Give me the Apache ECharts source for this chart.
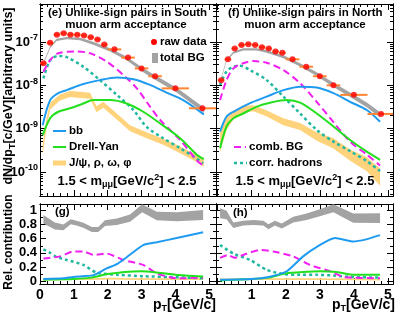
<!DOCTYPE html>
<html><head><meta charset="utf-8">
<script src="https://cdn.jsdelivr.net/npm/echarts@6/dist/echarts.min.js"></script>
<style>html,body{margin:0;padding:0;background:#fff}#c{width:399px;height:318px}</style>
</head><body><div id="c"></div><script>
// ================= DATA =================
// raw data bins (pT, GeV/c)
const binCenters = [0.1,0.3,0.5,0.7,0.9,1.1,1.3,1.5,1.7,1.9,2.2,2.6,3.0,3.4,4.0,4.8];
const binLow     = [0.0,0.2,0.4,0.6,0.8,1.0,1.2,1.4,1.6,1.8,2.0,2.4,2.8,3.2,3.6,4.4];
const binHigh    = [0.2,0.4,0.6,0.8,1.0,1.2,1.4,1.6,1.8,2.0,2.4,2.8,3.2,3.6,4.4,5.2];
// log10(dN/dpT) of raw data
const southRawLog = [-7.49,-7.02,-6.83,-6.80,-6.83,-6.83,-6.85,-6.89,-6.94,-7.06,-7.17,-7.36,-7.61,-7.79,-8.07,-8.53];
const northRawLog = [-7.88,-7.40,-7.15,-7.07,-7.05,-7.07,-7.12,-7.15,-7.22,-7.25,-7.40,-7.57,-7.79,-8.00,-8.22,-8.66];

// ---- (e) South components, log10 ----
const sTotX    = [0.08,0.30,0.49,0.79,1.18,1.57,2.07,2.56,3.05,3.45,4.04,4.84];
const sTotLog  = [-7.53,-7.12,-6.95,-6.91,-6.93,-7.03,-7.18,-7.38,-7.65,-7.84,-8.11,-8.57];
const sTotHalf = [0.022,0.024,0.025,0.027,0.03,0.033,0.037,0.042,0.047,0.052,0.056,0.06];
const sBbX     = [0.08,0.30,0.54,0.79,1.28,1.77,2.27,2.76,3.25,3.74,4.23,4.84];
const sBbLog   = [-8.92,-8.34,-8.18,-8.11,-7.97,-7.88,-7.82,-7.86,-7.99,-8.17,-8.34,-8.67];
const sDyX     = [0.08,0.30,0.54,0.89,1.28,1.57,2.07,2.56,3.05,3.55,4.14,4.63,4.84];
const sDyLog   = [-9.15,-8.76,-8.61,-8.53,-8.42,-8.34,-8.34,-8.42,-8.61,-8.88,-9.22,-9.60,-9.70];
const sJpX     = [0.08,0.20,0.30,0.59,0.89,1.18,1.48,1.67,1.87,2.27,2.66,3.15,3.64,4.14,4.63,4.84];
const sJpLog   = [-9.48,-8.85,-8.48,-8.28,-8.20,-8.22,-8.24,-8.55,-8.45,-8.72,-8.99,-9.15,-9.30,-9.49,-9.69,-9.80];
const sJpHalf  = [0.12,0.12,0.08,0.07,0.07,0.07,0.07,0.07,0.07,0.07,0.07,0.07,0.07,0.08,0.08,0.08];
const sCombX   = [0.10,0.30,0.54,1.08,1.48,1.97,2.46,2.86,3.25,3.55,4.14,4.63,4.82];
const sCombLog = [-7.69,-7.42,-7.26,-7.22,-7.26,-7.45,-7.76,-8.07,-8.49,-8.80,-9.26,-9.73,-9.85];
const sCorrX   = [0.10,0.30,0.54,0.79,1.28,1.77,2.27,2.76,3.15,3.64,4.14,4.63,4.82];
const sCorrLog = [-7.84,-7.42,-7.32,-7.35,-7.57,-7.88,-8.22,-8.57,-8.96,-9.22,-9.45,-9.69,-9.80];

// ---- (f) North components, log10 ----
const nTotX    = [0.07,0.26,0.46,0.75,1.15,1.44,1.93,2.42,2.91,3.40,3.89,4.38,4.77];
const nTotLog  = [-7.92,-7.42,-7.25,-7.17,-7.17,-7.22,-7.34,-7.53,-7.74,-7.99,-8.22,-8.45,-8.68];
const nTotHalf = [0.022,0.023,0.024,0.025,0.027,0.03,0.033,0.037,0.042,0.047,0.052,0.056,0.06];
const nBbX     = [0.07,0.26,0.46,0.95,1.44,1.93,2.42,2.91,3.40,3.89,4.38,4.77];
const nBbLog   = [-9.07,-8.72,-8.61,-8.41,-8.26,-8.11,-8.03,-8.05,-8.18,-8.38,-8.57,-8.84];
const nDyX     = [0.07,0.26,0.46,0.75,1.15,1.54,2.03,2.42,2.91,3.40,3.89,4.38,4.77];
const nDyLog   = [-9.45,-8.95,-8.76,-8.65,-8.49,-8.40,-8.34,-8.40,-8.65,-8.95,-9.26,-9.53,-9.72];
const nJpX     = [0.07,0.26,0.46,0.75,1.05,1.44,1.93,2.42,2.91,3.40,3.89,4.38,4.77];
const nJpLog   = [-9.26,-8.88,-8.69,-8.55,-8.53,-8.65,-8.84,-8.95,-9.18,-9.34,-9.61,-9.82,-10.12];
const nJpHalf  = [0.28,0.15,0.10,0.08,0.07,0.07,0.08,0.08,0.10,0.12,0.13,0.16,0.20];
const nCombX   = [0.07,0.26,0.46,0.75,1.05,1.44,1.93,2.42,2.91,3.40,3.89,4.38,4.77];
const nCombLog = [-8.34,-7.88,-7.61,-7.49,-7.44,-7.48,-7.65,-7.95,-8.38,-8.85,-9.30,-9.60,-9.85];
const nCorrX   = [0.07,0.26,0.46,0.66,0.95,1.44,1.93,2.42,2.91,3.40,3.89,4.38,4.77];
const nCorrLog = [-7.99,-7.68,-7.57,-7.55,-7.65,-7.88,-8.26,-8.65,-9.03,-9.30,-9.52,-9.75,-9.98];

// ---- (g) South relative contributions ----
const gTotX    = [0.10,0.44,0.69,0.91,1.08,1.28,1.53,1.72,1.92,2.27,2.66,3.02,3.45,4.04,4.82];
const gTotC    = [0.874,0.78,0.76,0.84,0.82,0.79,0.73,0.73,0.82,0.84,0.89,1.03,0.92,0.91,0.935];
const gTotHalf = [0.06,0.05,0.04,0.035,0.035,0.035,0.035,0.035,0.04,0.045,0.05,0.055,0.06,0.065,0.07];
const gBbX     = [0.10,0.69,0.98,1.28,1.58,1.97,2.27,2.51,3.05,3.45,4.04,4.82];
const gBbV     = [0.03,0.04,0.06,0.07,0.085,0.18,0.24,0.32,0.51,0.55,0.61,0.69];
const gCombX   = [0.10,0.59,0.98,1.28,1.58,1.97,2.46,3.05,3.45,4.04,4.82];
const gCombV   = [0.32,0.35,0.42,0.42,0.37,0.39,0.30,0.23,0.11,0.04,0.05];
const gCorrX   = [0.10,0.30,0.49,0.79,1.28,1.67,2.27,3.05,4.04,4.82];
const gCorrV   = [0.45,0.40,0.34,0.30,0.23,0.12,0.09,0.07,0.055,0.04];
const gDyX     = [0.10,0.50,1.00,1.50,2.00,2.50,3.00,3.50,4.00,4.82];
const gDyV     = [0.02,0.025,0.03,0.05,0.10,0.13,0.14,0.12,0.09,0.065];
const gJpX     = [0.10,1.00,1.50,2.00,3.00,4.00,4.82];
const gJpC     = [0.02,0.03,0.03,0.035,0.03,0.03,0.03];
const gJpHalf  = [0.012,0.012,0.012,0.012,0.012,0.012,0.012];

// ---- (h) North relative contributions ----
const hTotX    = [0.07,0.26,0.46,0.75,1.05,1.34,1.49,1.68,1.88,2.22,2.61,3.00,3.40,3.98,4.77];
const hTotC    = [0.96,0.935,0.79,0.82,0.83,0.82,0.77,0.82,0.78,0.87,0.91,0.967,1.03,0.89,0.89];
const hTotHalf = [0.07,0.06,0.04,0.035,0.035,0.035,0.035,0.035,0.035,0.04,0.045,0.05,0.055,0.065,0.07];
const hBbX     = [0.07,1.00,1.50,2.03,2.51,2.96,3.45,3.98,4.36,4.77];
const hBbV     = [0.02,0.03,0.06,0.14,0.35,0.50,0.61,0.56,0.59,0.65];
const hCombX   = [0.07,0.30,0.50,0.80,1.24,1.63,2.22,2.71,3.30,3.69,4.00,4.77];
const hCombV   = [0.33,0.37,0.33,0.38,0.44,0.42,0.35,0.23,0.14,0.06,0.05,0.04];
const hCorrX   = [0.07,0.46,0.95,1.44,1.93,2.42,2.91,3.40,3.89,4.77];
const hCorrV   = [0.51,0.39,0.30,0.16,0.10,0.09,0.09,0.08,0.06,0.05];
const hDyX     = [0.07,0.50,1.00,1.50,2.00,2.50,3.00,3.50,4.00,4.77];
const hDyV     = [0.01,0.02,0.03,0.05,0.11,0.13,0.14,0.13,0.09,0.09];
const hJpX     = [0.07,1.00,2.00,3.00,4.00,4.77];
const hJpC     = [0.025,0.03,0.03,0.03,0.025,0.02];
const hJpHalf  = [0.012,0.012,0.012,0.012,0.012,0.012];

// tick labels
const xTickValues = [0,1,2,3,4,5];
const logDecades = [-10,-9,-8,-7];
const relTicks = [0,0.2,0.4,0.6,0.8,1];

// ================= STYLE / LAYOUT =================
const FONT = '"Liberation Sans", Arial, Helvetica, sans-serif';
const C = {blue:'#1e9bf0', green:'#22e01e', mag:'#f020f0', teal:'#1fb8a0', yel:'#ffd37c', gray:'#a3a3a3', red:'#ff0000', orange:'#ff8533'};
const grids = [
  {left:40, top:4, width:176, height:192},
  {left:216, top:4, width:177, height:192},
  {left:40, top:204, width:176, height:80},
  {left:216, top:204, width:177, height:80}
];
const xRangeL = [0, 5.2], xRangeR = [-0.05, 5.15];
const yRangeTop = [-10.554, -6.123], yRangeBot = [-0.04, 1.09];

function range(a, b, step) { const r = []; for (let v = a; v <= b + 1e-9; v += step) r.push(Math.round(v * 1000) / 1000); return r; }
const xMinor = range(0, 5.2, 0.2).filter(v => Math.abs(v - Math.round(v)) > 1e-6);
const logMinor = [];
for (let n = -11; n <= -7; n++) for (let k = 2; k <= 9; k++) { const v = n + Math.log10(k); if (v > yRangeTop[0] && v < yRangeTop[1]) logMinor.push(v); }
const relMinor = [0.1,0.3,0.5,0.7,0.9];

function mkAxis(g, r, pos, ticks, len, label) {
  return {
    type: 'value', gridIndex: g, min: r[0], max: r[1], position: pos, silent: true,
    axisLine: {show: true, onZero: false, lineStyle: {color: '#000', width: 1}},
    axisTick: {show: true, inside: true, length: len, customValues: ticks, lineStyle: {color: '#000', width: 1}},
    splitLine: {show: false}, minorTick: {show: false},
    axisLabel: label ? Object.assign({show: true}, label) : {show: false}
  };
}
const xAxes = [], yAxes = [], xMain = [], yMain = [];
const xLabelStyle = {fontFamily: FONT, fontWeight: 'bold', fontSize: 14, color: '#000', margin: 4};
const yLogLabel = {
  customValues: logDecades, margin: 2, color: '#000',
  formatter: v => '{a|10}{b|' + Math.round(v) + '}',
  rich: {a: {fontFamily: FONT, fontWeight: 'bold', fontSize: 13, color: '#000'},
         b: {fontFamily: FONT, fontWeight: 'bold', fontSize: 9, color: '#000', padding: [0, 0, 8, 0]}}
};
const yRelLabel = {
  customValues: relTicks, margin: 3, fontFamily: FONT, fontWeight: 'bold', fontSize: 13, color: '#000',
  formatter: v => (Math.abs(v) < 1e-6 ? '0' : (Math.abs(v - 1) < 1e-6 ? '1' : v.toFixed(1)))
};
[0,1,2,3].forEach(g => {
  const xr = (g % 2 === 0) ? xRangeL : xRangeR;
  const yr = g < 2 ? yRangeTop : yRangeBot;
  let xl = null;
  if (g === 2) xl = Object.assign({customValues: xTickValues}, xLabelStyle);
  if (g === 3) xl = Object.assign({customValues: xTickValues.slice(1)}, xLabelStyle);
  xMain[g] = xAxes.length;
  xAxes.push(mkAxis(g, xr, 'bottom', xTickValues, 6, xl));
  xAxes.push(mkAxis(g, xr, 'bottom', xMinor, 3));
  xAxes.push(mkAxis(g, xr, 'top', xTickValues, 6));
  xAxes.push(mkAxis(g, xr, 'top', xMinor, 3));
  const yMaj = g < 2 ? logDecades : relTicks;
  const yMin = g < 2 ? logMinor : relMinor;
  let yl = null;
  if (g === 0) yl = yLogLabel;
  if (g === 2) yl = yRelLabel;
  yMain[g] = yAxes.length;
  yAxes.push(mkAxis(g, yr, 'left', yMaj, 6, yl));
  yAxes.push(mkAxis(g, yr, 'left', yMin, 3));
  yAxes.push(mkAxis(g, yr, 'right', yMaj, 6));
  yAxes.push(mkAxis(g, yr, 'right', yMin, 3));
});

const series = [];
function zip(xs, ys) { return xs.map((x, i) => [x, ys[i]]); }
function addLine(g, xs, ys, color, type, width, smooth) {
  series.push({type: 'line', xAxisIndex: xMain[g], yAxisIndex: yMain[g], data: zip(xs, ys),
    showSymbol: false, symbol: 'none', smooth: smooth, clip: true, silent: true,
    lineStyle: {color: color, width: width, type: type}, z: 3});
}
function addBand(g, xs, c, h, color, z) {
  const lo = c.map((v, i) => v - h[i]), hi = c.map((v, i) => v + h[i]);
  series.push({type: 'custom', xAxisIndex: xMain[g], yAxisIndex: yMain[g], silent: true, clip: true, z: z,
    data: xs.map((x, i) => [x, lo[i], hi[i]]), encode: {x: 0, y: [1, 2]},
    renderItem: (params, api) => {
      if (params.dataIndex !== 0) return null;
      const pts = [];
      for (let i = 0; i < xs.length; i++) pts.push(api.coord([xs[i], hi[i]]));
      for (let i = xs.length - 1; i >= 0; i--) pts.push(api.coord([xs[i], lo[i]]));
      return {type: 'polygon', shape: {points: pts, smooth: 0}, style: {fill: color, stroke: null}};
    }});
}
function addData(g, ys) {
  series.push({type: 'custom', xAxisIndex: xMain[g], yAxisIndex: yMain[g], silent: true, clip: true, z: 5,
    data: binCenters.map((x, i) => [x, ys[i], binLow[i], binHigh[i]]), encode: {x: 0, y: 1},
    renderItem: (params, api) => {
      const a = api.coord([api.value(2), api.value(1)]), b = api.coord([api.value(3), api.value(1)]);
      return {type: 'line', shape: {x1: a[0], y1: a[1], x2: b[0], y2: b[1]}, style: {stroke: C.orange, lineWidth: 2}};
    }});
  series.push({type: 'scatter', xAxisIndex: xMain[g], yAxisIndex: yMain[g], silent: true, z: 6,
    data: zip(binCenters, ys), symbol: 'circle', symbolSize: 6, itemStyle: {color: C.red}});
}
const DASH = [7, 4], DOT = [3, 3];
// (e)
addBand(0, sJpX, sJpLog, sJpHalf, C.yel, 1);
addBand(0, sTotX, sTotLog, sTotHalf, C.gray, 2);
addLine(0, sCorrX, sCorrLog, C.teal, DOT, 2.5, 0.3);
addLine(0, sCombX, sCombLog, C.mag, DASH, 2, 0.3);
addLine(0, sDyX, sDyLog, C.green, 'solid', 2, 0.3);
addLine(0, sBbX, sBbLog, C.blue, 'solid', 2, 0.3);
addData(0, southRawLog);
// (f)
addBand(1, nJpX, nJpLog, nJpHalf, C.yel, 1);
addBand(1, nTotX, nTotLog, nTotHalf, C.gray, 2);
addLine(1, nCorrX, nCorrLog, C.teal, DOT, 2.5, 0.3);
addLine(1, nCombX, nCombLog, C.mag, DASH, 2, 0.3);
addLine(1, nDyX, nDyLog, C.green, 'solid', 2, 0.3);
addLine(1, nBbX, nBbLog, C.blue, 'solid', 2, 0.3);
addData(1, northRawLog);
// (g)
addBand(2, gTotX, gTotC, gTotHalf, C.gray, 2);
addBand(2, gJpX, gJpC, gJpHalf, C.yel, 2);
addLine(2, gCorrX, gCorrV, C.teal, DOT, 2.5, 0.2);
addLine(2, gCombX, gCombV, C.mag, DASH, 2, 0.2);
addLine(2, gDyX, gDyV, C.green, 'solid', 2, 0.2);
addLine(2, gBbX, gBbV, C.blue, 'solid', 2, 0.2);
// (h)
addBand(3, hTotX, hTotC, hTotHalf, C.gray, 2);
addBand(3, hJpX, hJpC, hJpHalf, C.yel, 2);
addLine(3, hCorrX, hCorrV, C.teal, DOT, 2.5, 0.2);
addLine(3, hCombX, hCombV, C.mag, DASH, 2, 0.2);
addLine(3, hDyX, hDyV, C.green, 'solid', 2, 0.2);
addLine(3, hBbX, hBbV, C.blue, 'solid', 2, 0.2);

// ================= TEXT / LEGENDS =================
function T(x, y, text, size, align, extra) {
  return Object.assign({type: 'text', x: x, y: y, z: 10, silent: true,
    style: Object.assign({text: text, fill: '#000', fontFamily: FONT, fontWeight: 'bold', fontSize: size,
      align: align || 'left', verticalAlign: 'middle'}, (extra && extra.style) || {})},
    extra && extra.rotation ? {rotation: extra.rotation} : {});
}
const subRich = {s: {fontFamily: FONT, fontWeight: 'bold', fontSize: 9, padding: [7, 0, 0, 0]},
                 p: {fontFamily: FONT, fontWeight: 'bold', fontSize: 9, padding: [0, 0, 7, 0]},
                 n: {fontFamily: FONT, fontWeight: 'bold', fontSize: 13}};
const graphic = [
  T(48, 13, '(e) Unlike-sign pairs in South', 11.5),
  T(126, 25, 'muon arm acceptance', 11.5, 'center'),
  T(228, 13, '(f) Unlike-sign pairs in North', 11.5),
  T(305, 25, 'muon arm acceptance', 11.5, 'center'),
  {type: 'circle', shape: {cx: 154, cy: 42, r: 3}, style: {fill: C.red}, z: 10, silent: true},
  T(160, 42, 'raw data', 11.5),
  {type: 'rect', shape: {x: 152, y: 53, width: 6, height: 10}, style: {fill: C.gray}, z: 10, silent: true},
  T(160, 58, 'total BG', 11.5),
  {type: 'line', shape: {x1: 53, y1: 131, x2: 66, y2: 131}, style: {stroke: C.blue, lineWidth: 2}, z: 10, silent: true},
  T(69, 131, 'bb', 11.5),
  {type: 'line', shape: {x1: 53, y1: 147, x2: 66, y2: 147}, style: {stroke: C.green, lineWidth: 2}, z: 10, silent: true},
  T(69, 147, 'Drell-Yan', 11.5),
  {type: 'line', shape: {x1: 53, y1: 163, x2: 66, y2: 163}, style: {stroke: C.yel, lineWidth: 5}, z: 10, silent: true},
  T(69, 163, 'J/ψ, ρ, ω, φ', 11.5),
  {type: 'line', shape: {x1: 234, y1: 147, x2: 246, y2: 147}, style: {stroke: C.mag, lineWidth: 2, lineDash: DASH}, z: 10, silent: true},
  T(249, 147, 'comb. BG', 11.5),
  {type: 'line', shape: {x1: 234, y1: 163, x2: 247, y2: 163}, style: {stroke: C.teal, lineWidth: 2.5, lineDash: DOT}, z: 10, silent: true},
  T(249, 163, 'corr. hadrons', 11.5),
  T(127, 181, '{n|1.5 < m}{s|μμ}{n|[GeV/c}{p|2}{n|] < 2.5}', 13, 'center', {style: {rich: subRich}}),
  T(305, 181, '{n|1.5 < m}{s|μμ}{n|[GeV/c}{p|2}{n|] < 2.5}', 13, 'center', {style: {rich: subRich}}),
  T(55, 212, '(g)', 11.5),
  T(233, 213, '(h)', 11.5),
  T(216, 305, '{m|p}{s|T}{m|[GeV/c]}', 14, 'right', {style: {rich: {m: {fontFamily: FONT, fontWeight: 'bold', fontSize: 14}, s: subRich.s}}}),
  T(395, 305, '{m|p}{s|T}{m|[GeV/c]}', 14, 'right', {style: {rich: {m: {fontFamily: FONT, fontWeight: 'bold', fontSize: 14}, s: subRich.s}}}),
  T(9, 96, '{m|dN/dp}{s|T}{m|[c/GeV][arbitrary units]}', 12.5, 'center', {rotation: Math.PI / 2, style: {rich: {m: {fontFamily: FONT, fontWeight: 'bold', fontSize: 12.5}, s: subRich.s}}}),
  T(9, 242, 'Rel. contribution', 12, 'center', {rotation: Math.PI / 2})
];

const chart = echarts.init(document.getElementById('c'), null, {renderer: 'canvas'});
chart.setOption({
  animation: false, backgroundColor: '#fff',
  grid: grids, xAxis: xAxes, yAxis: yAxes, series: series, graphic: graphic
});
</script></body></html>
